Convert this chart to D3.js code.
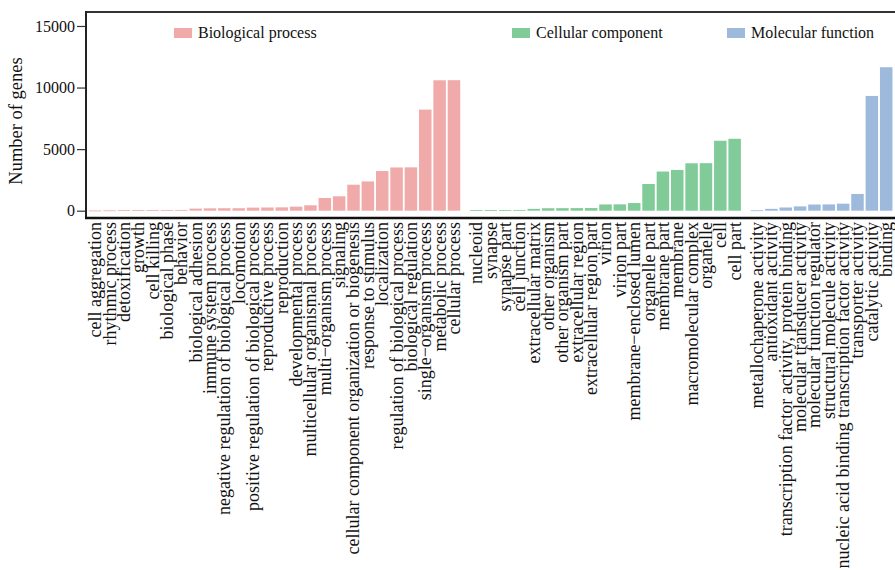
<!DOCTYPE html>
<html><head><meta charset="utf-8">
<script src="https://cdn.jsdelivr.net/npm/d3@7"></script>
<style>
html,body{margin:0;padding:0;background:#fff;}
svg{display:block;}
svg text{font-family:"Liberation Serif","Times New Roman","DejaVu Serif",serif !important;fill:#111;}
</style></head>
<body><svg id="chart" width="895" height="570"></svg>
<script>
const groupNames = ["Biological process", "Cellular component", "Molecular function"];
const groupColors = ["#F1AAAA", "#80CB98", "#9DB9DC"];

const bpTerms = ["cell aggregation","rhythmic process","detoxification","growth","cell killing","biological phase","behavior","biological adhesion","immune system process","negative regulation of biological process","locomotion","positive regulation of biological process","reproductive process","reproduction","developmental process","multicellular organismal process","multi\u2212organism process","signaling","cellular component organization or biogenesis","response to stimulus","localization","regulation of biological process","biological regulation","single\u2212organism process","metabolic process","cellular process"];
const bpValues = [15,25,40,45,50,55,60,170,190,200,200,250,260,270,330,440,1030,1170,2110,2380,3220,3510,3520,8210,10590,10600];

const ccTerms = ["nucleoid","synapse","synapse part","cell junction","extracellular matrix","other organism","other organism part","extracellular region","extracellular region part","virion","virion part","membrane\u2212enclosed lumen","organelle part","membrane part","membrane","macromolecular complex","organelle","cell","cell part"];
const ccValues = [40,50,55,60,150,200,205,210,215,510,515,620,2170,3180,3310,3850,3860,5680,5840];

const mfTerms = ["metallochaperone activity","antioxidant activity","transcription factor activity, protein binding","molecular transducer activity","molecular function regulator","structural molecule activity","nucleic acid binding transcription factor activity","transporter activity","catalytic activity","binding"];
const mfValues = [30,150,260,350,500,510,570,1360,9320,11650];

const yTicks = [0, 5000, 10000, 15000];
const yLabel = "Number of genes";

// ---- layout ----
const FONT = '"Liberation Serif","Times New Roman","DejaVu Serif",serif';
const svg = d3.select("#chart").attr("font-family", FONT);
const frameL = 86, frameT = 12, frameB = 218, frameR = 895;
const groupGap = 0.56; // extra slot fraction between groups

const groups = [
  {terms: bpTerms, values: bpValues},
  {terms: ccTerms, values: ccValues},
  {terms: mfTerms, values: mfValues}
];
const bars = [];
let slot = 0;
groups.forEach((g, gi) => {
  g.terms.forEach((t, i) => {
    bars.push({term: t, value: g.values[i], group: gi, slot: slot});
    slot += 1;
  });
  slot += groupGap;
});
const lastSlot = bars[bars.length - 1].slot;

const x = d3.scaleLinear().domain([0, lastSlot]).range([95.2, 886.2]);
const y = d3.scaleLinear().domain([-593, 16136]).range([frameB, frameT]);
const barW = 12.5;

// bars
svg.append("g").selectAll("rect").data(bars).enter().append("rect")
  .attr("x", d => x(d.slot) - barW / 2)
  .attr("width", barW)
  .attr("y", d => y(d.value))
  .attr("height", d => Math.max(0.8, y(0) - y(d.value)))
  .attr("fill", d => groupColors[d.group]);

// frame
const frame = svg.append("g").attr("stroke", "#222").attr("fill", "none");
frame.append("line").attr("x1", frameL).attr("x2", frameR).attr("y1", frameT).attr("y2", frameT).attr("stroke-width", 2).attr("stroke", "#333");
frame.append("line").attr("x1", frameL).attr("x2", frameL).attr("y1", frameT - 1).attr("y2", frameB + 1).attr("stroke-width", 2);
frame.append("line").attr("x1", frameL - 1).attr("x2", frameR).attr("y1", frameB).attr("y2", frameB).attr("stroke-width", 2.5).attr("stroke", "#111");

// y axis
const yAxis = svg.append("g").attr("transform", `translate(${frameL - 1},0)`)
  .call(d3.axisLeft(y).tickValues(yTicks).tickFormat(d3.format("d")).tickSize(8).tickPadding(2));
yAxis.attr("font-family", FONT).attr("font-size", 16);
yAxis.select(".domain").remove();
yAxis.selectAll(".tick line").attr("stroke", "#333").attr("stroke-width", 1.2);
yAxis.selectAll(".tick text").attr("font-size", 16).attr("fill", "#111");

// y label
svg.append("text")
  .attr("transform", "translate(22,121) rotate(-90)")
  .attr("text-anchor", "middle")
  .attr("font-size", 18.5)
  .text(yLabel);

// category labels
svg.append("g").selectAll("text").data(bars).enter().append("text")
  .attr("transform", d => `translate(${x(d.slot)},222) rotate(-90)`)
  .attr("text-anchor", "end")
  .attr("dy", "0.33em")
  .attr("font-size", 18)
  .text(d => d.term);

// legend
const legendX = [174, 512, 727];
const leg = svg.append("g").selectAll("g").data(groupNames).enter().append("g")
  .attr("transform", (d, i) => `translate(${legendX[i]},28)`);
leg.append("rect").attr("width", 18).attr("height", 10).attr("fill", (d, i) => groupColors[i]);
leg.append("text").attr("x", 24).attr("y", 10).attr("font-size", 16).text(d => d);
</script>
</body></html>
